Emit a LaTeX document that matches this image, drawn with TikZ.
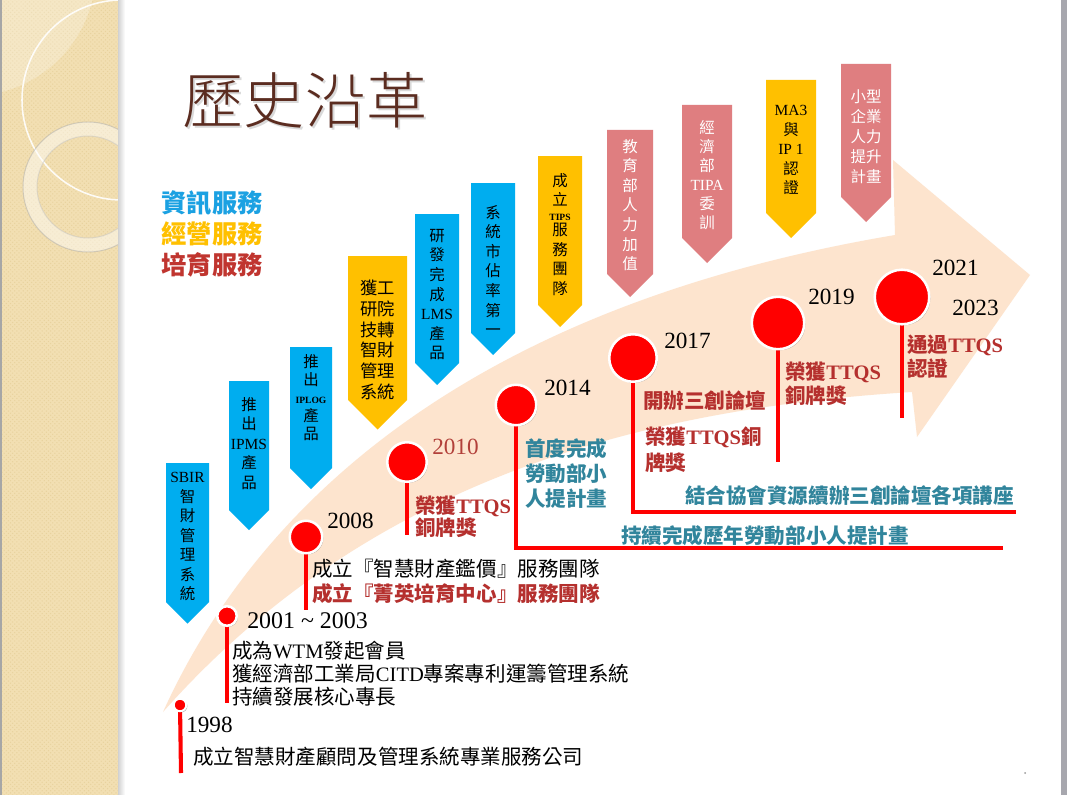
\documentclass[tikz,border=0pt]{standalone}
\usepackage{fontspec}
\setmainfont{Noto Sans CJK TC}
\newfontfamily\latn{Liberation Serif}
\IfFontExistsTF{Noto Sans CJK TC Light}
  {\newfontfamily\titlefont{Noto Sans CJK TC Light}}
  {\newfontfamily\titlefont{Noto Sans CJK TC}}
\usepackage{tikz}
\usetikzlibrary{patterns,shadows}
\definecolor{panel}{HTML}{F2DFB2}
\definecolor{paneldot}{HTML}{E8D29E}
\definecolor{peach}{HTML}{FDE4CE}
\definecolor{bnblue}{HTML}{00ADEF}
\definecolor{bnyellow}{HTML}{FFC000}
\definecolor{bnpink}{HTML}{DF7E80}
\definecolor{titlebrown}{HTML}{5B2C20}
\definecolor{lgblue}{HTML}{1BA1E2}
\definecolor{lgred}{HTML}{C0352F}
\definecolor{txtred}{HTML}{B5302E}
\definecolor{txtteal}{HTML}{31859C}
\definecolor{yearred}{HTML}{B2403A}
\definecolor{pinred}{HTML}{FF0000}
\definecolor{framegray}{HTML}{A7A7AE}

\begin{document}
\begin{tikzpicture}[x=0.025cm,y=-0.025cm,
    bantext/.style={anchor=north,inner sep=0,align=center,font=\fontsize{11}{13.9}\selectfont},
    yearlbl/.style={anchor=west,inner sep=0,font=\latn\fontsize{16.5}{18}\selectfont},
    desc/.style={anchor=west,inner sep=0,align=left,font=\fontsize{14.6}{16.4}\selectfont},
    redtxt/.style={desc,text=txtred,font=\bfseries\fontsize{14.6}{17}\selectfont},
    tealtxt/.style={desc,text=txtteal,font=\bfseries\fontsize{14.6}{17.8}\selectfont},
    legendtxt/.style={inner sep=0,font=\bfseries\fontsize{18}{20}\selectfont},
    yeardot/.style={circle,fill=pinred,draw=white,line width=1.8pt,inner sep=0,
      drop shadow={shadow xshift=.8pt,shadow yshift=-.8pt,opacity=.3,fill=black}},
    pinline/.style={draw=pinred,line width=2.9pt},
  ]
  \useasboundingbox (0,0) rectangle (1067,795);
  \fill[white] (0,0) rectangle (1067,795);

  % left panel
  \fill[panel] (2,0) rectangle (118,795);
  \fill[pattern=crosshatch dots,pattern color=paneldot] (2,0) rectangle (118,795);
  \begin{scope}
    \clip (2,0) rectangle (118,795);
    \fill[white,opacity=.25] (-30,-30) circle (126);
    \draw[white,opacity=.9,line width=1.1pt] (122,100) circle (100);
    \draw[white,opacity=.45,line width=10pt] (88,187) circle (58);
    \draw[black!35,opacity=.45,line width=.7pt] (88,187) circle (65);
    \draw[black!25,opacity=.45,line width=.7pt] (88,187) circle (51);
  \end{scope}
  \shade[left color=black!18,right color=white] (118,0) rectangle (125,795);
  \fill[black!35] (0,0) rectangle (2,795);
  \fill[framegray] (1061,0) rectangle (1067,795);
  \fill[black!40] (1025,773) circle (1);

  % title and legend
  \node[text=black!15,font=\titlefont\fontsize{43.5}{48}\selectfont] (titleShadow) at (307,102) {歷史沿革};
  \node[text=titlebrown,font=\titlefont\fontsize{43.5}{48}\selectfont] (title) at (305,100) {歷史沿革};
  \node[legendtxt,text=lgblue] (lgInfo) at (212,203) {資訊服務};
  \node[legendtxt,text=bnyellow] (lgMgmt) at (212,234) {經營服務};
  \node[legendtxt,text=lgred] (lgEdu) at (212,265) {培育服務};

  % rising arrow
  \fill[peach] (163,712) .. controls (250,520) and (450,310) .. (895,235)
    -- (893,160) -- (1030,275) -- (917,437) -- (912,392)
    .. controls (620,410) and (360,490) .. (163,712) -- cycle;

  % banners
  \foreach \bx/\bw/\bt/\bb/\bc in {166/43/463/602/bnblue, 229/40/381/510/bnblue,
      290/42/347/468/bnblue, 348/59/256/400/bnyellow, 415/44/214/363/bnblue,
      471/44/183/333/bnblue, 538/44/156/305/bnyellow, 607/46/130/274/bnpink,
      682/50/105/238/bnpink, 766/50/80/213/bnyellow, 841/50/64/197/bnpink}
    \fill[\bc] (\bx,\bt) -- ++(\bw,0) -- ++(0,\bb-\bt) -- ++(-\bw/2,\bw/2) -- ++(-\bw/2,-\bw/2) -- cycle;

  \path
  (187.5,472) node[bantext] (bnSbir) {{\latn SBIR}\\智\\財\\管\\理\\系\\統}
  (249,397) node[bantext] (bnIpms) {推\\出\\{\latn IPMS}\\產\\品}
  (311,354) node[bantext,font=\fontsize{11}{12.8}\selectfont] (bnIplog)
    {推\\出\\{\latn\bfseries\fontsize{6.8}{7}\selectfont IPLOG}\\產\\品}
  (377.5,280) node[bantext,font=\fontsize{12.3}{14.7}\selectfont] (bnItri) {獲工\\研院\\技轉\\智財\\管理\\系統}
  (437,229) node[bantext] (bnLms) {研\\發\\完\\成\\{\latn LMS}\\產\\品}
  (493,205) node[bantext] (bnShare) {系\\統\\市\\佔\\率\\第\\一}
  (560,173) node[bantext] (bnTips)
    {成\\立\\[-3.2pt]{\latn\bfseries\fontsize{6.8}{7}\selectfont TIPS}\\[-3.2pt]服\\務\\團\\隊}
  (630,139) node[bantext,text=white] (bnMoe) {教\\育\\部\\人\\力\\加\\值}
  (707,120) node[bantext,text=white,font=\fontsize{11}{13.5}\selectfont] (bnTipa) {經\\濟\\部\\{\latn TIPA}\\委\\訓}
  (791,105) node[bantext] (bnMa) {{\latn MA3}\\與\\{\latn IP 1}\\認\\證}
  (866,89) node[bantext,text=white,font=\fontsize{11}{14.2}\selectfont] (bnSme) {小型\\企業\\人力\\提升\\計畫}
  ;

  % pins
  \path
  (180,705) coordinate (c1998) (181,773) coordinate (e1998)
  (227,616) coordinate (c2001) (227,703) coordinate (e2001)
  (306,537) coordinate (c2008) (306,610) coordinate (e2008)
  (407,462) coordinate (c2010) (407,535) coordinate (e2010)
  (516,405) coordinate (c2014) (1003,548) coordinate (e2014)
  (633,358) coordinate (c2017) (1016,512) coordinate (e2017)
  (778,323) coordinate (c2019) (778,462) coordinate (e2019)
  (902,297) coordinate (c2021) (902,418) coordinate (e2021)
  ;
  \draw[pinline] (c1998) -- (e1998);
  \draw[pinline] (c2001) -- (e2001);
  \draw[pinline] (c2008) -- (e2008);
  \draw[pinline] (c2010) -- (e2010);
  \draw[pinline] (c2014) |- (e2014);
  \draw[pinline] (c2017) |- (e2017);
  \draw[pinline] (c2019) -- (e2019);
  \draw[pinline] (c2021) -- (e2021);

  \node[yeardot,minimum size=8.9pt,line width=1.4pt] (d1998) at (c1998) {};
  \node[yeardot,minimum size=13.9pt] (d2001) at (c2001) {};
  \node[yeardot,minimum size=23.1pt] (d2008) at (c2008) {};
  \node[yeardot,minimum size=28.1pt] (d2010) at (c2010) {};
  \node[yeardot,minimum size=28.8pt] (d2014) at (c2014) {};
  \node[yeardot,minimum size=33.8pt] (d2017) at (c2017) {};
  \node[yeardot,minimum size=37.3pt] (d2019) at (c2019) {};
  \node[yeardot,minimum size=38.8pt] (d2021) at (c2021) {};

  % years and texts
  \node[yearlbl] (y1998) at (186,725) {1998};
  \node[desc] (t1998) at (193,757) {成立智慧財產顧問及管理系統專業服務公司};

  \node[yearlbl,font=\latn\fontsize{17}{18}\selectfont] (y2001) at (247,621) {2001 \textasciitilde{} 2003};
  \node[desc,anchor=north west] (t2001) at (232,641)
    {成為{\latn WTM}發起會員\\獲經濟部工業局{\latn CITD}專案專利運籌管理系統\\持續發展核心專長};

  \node[yearlbl] (y2008) at (327,521) {2008};
  \node[desc] (t2008a) at (312,569) {成立『智慧財產鑑價』服務團隊};
  \node[redtxt] (t2008b) at (312,594) {成立『菁英培育中心』服務團隊};

  \node[yearlbl,text=yearred] (y2010) at (432,447) {2010};
  \node[redtxt,anchor=north west] (t2010) at (415,496) {榮獲{\latn TTQS}\\[-1.4pt]銅牌獎};

  \node[yearlbl] (y2014) at (544,388) {2014};
  \node[tealtxt,anchor=north west] (t2014a) at (525,438) {首度完成\\勞動部小\\人提計畫};
  \node[tealtxt] (t2014b) at (621,536) {持續完成歷年勞動部小人提計畫};

  \node[yearlbl] (y2017) at (664,341) {2017};
  \node[redtxt] (t2017a) at (643,401) {開辦三創論壇};
  \node[redtxt,anchor=north west] (t2017b) at (645,427) {榮獲{\latn TTQS}銅\\[.8pt]牌獎};
  \node[tealtxt] (t2017c) at (685,496) {結合協會資源續辦三創論壇各項講座};

  \node[yearlbl] (y2019) at (808,297) {2019};
  \node[redtxt,anchor=north west] (t2019) at (785,362) {榮獲{\latn TTQS}\\銅牌獎};

  \node[yearlbl] (y2021) at (932,268) {2021};
  \node[yearlbl] (y2023) at (952,308) {2023};
  \node[redtxt,anchor=north west] (t2021) at (907,335) {通過{\latn TTQS}\\認證};
\end{tikzpicture}
\end{document}
